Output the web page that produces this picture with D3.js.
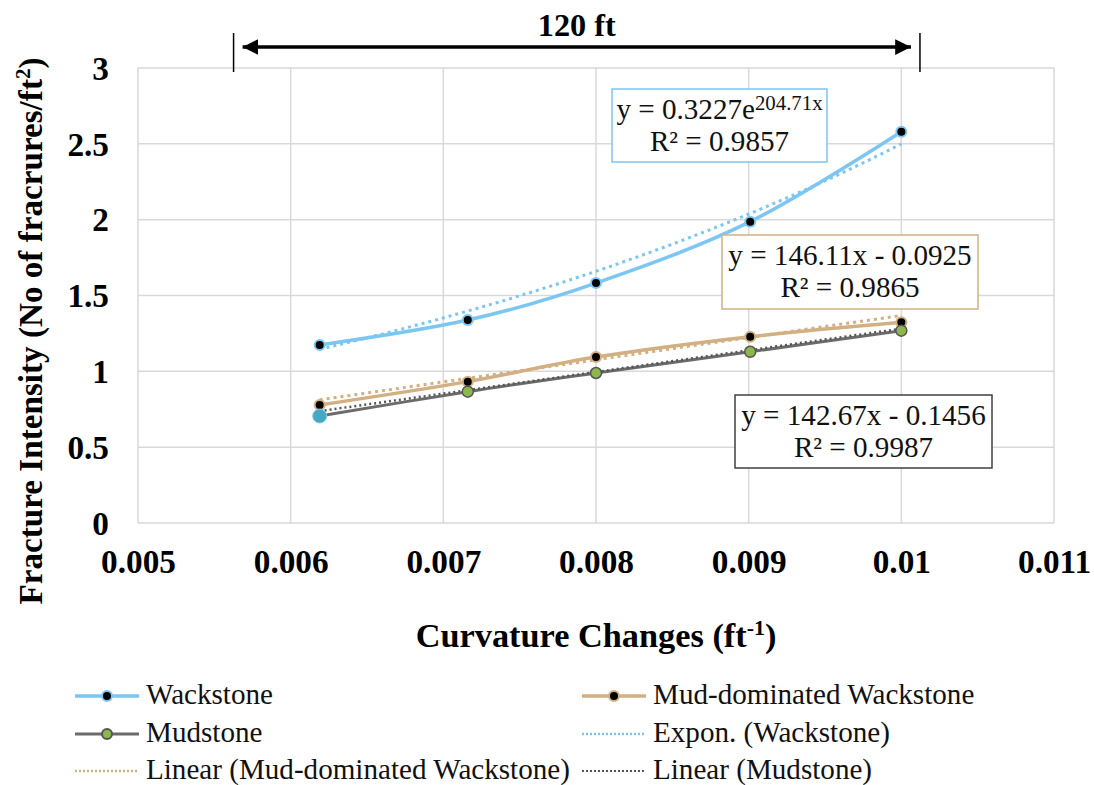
<!DOCTYPE html>
<html>
<head>
<meta charset="utf-8">
<script src="https://cdn.jsdelivr.net/npm/d3@7/dist/d3.min.js"></script>
<style>
  html, body { margin: 0; padding: 0; background: #fff; }
  svg { display: block; }
</style>
</head>
<body>
<svg id="chart" width="1094" height="785"></svg>
<script>
// ---- data ----
const curvature = [0.00619, 0.00716, 0.008, 0.00901, 0.01];
const wackstone = [1.174, 1.338, 1.582, 1.987, 2.58];
const mudWackstone = [0.778, 0.932, 1.094, 1.228, 1.323];
const mudstone = [0.705, 0.866, 0.989, 1.129, 1.268];
const xTicks = [0.005, 0.006, 0.007, 0.008, 0.009, 0.01, 0.011];
const yTicks = [0, 0.5, 1, 1.5, 2, 2.5, 3];
const expWack = [0.3227, 204.71];       // y = a e^(bx)
const linMud = [146.11, -0.0925];       // y = m x + c
const linMudstone = [142.67, -0.1456];
const spanEnds = [0.005626, 0.010122];
const spanLabel = "120 ft";

// ---- font detection: pick first installed serif ----
const cv = document.createElement("canvas").getContext("2d");
function w(font) { cv.font = font; return cv.measureText("abcdefghijklmnopqrstuvwxyz WMil 0123456789").width; }
const candidates = ["Liberation Serif", "Times New Roman", "Tinos", "DejaVu Serif", "Noto Serif", "FreeSerif", "Nimbus Roman", "Georgia"];
let serifName = null;
for (const f of candidates) {
  const a = w(`40px "${f}", monospace`), b = w("40px monospace");
  const c = w(`40px "${f}", sans-serif`), d = w("40px sans-serif");
  if (Math.abs(a - b) > 0.5 && Math.abs(c - d) > 0.5) { serifName = f; break; }
}
const FONT = serifName ? `"${serifName}", serif` : "serif";

// scale fonts so that widths match the reference (legend label ~322px at target)
cv.font = `28px ${FONT}`;
const measured = cv.measureText("Mud-dominated Wackstone").width;
const k = Math.min(1.15, Math.max(0.7, 322 / measured));
const fs = v => v * k;

const svg = d3.select("#chart").style("font-family", FONT);
const plot = { left: 138, right: 1054, top: 68, bottom: 523 };

const x = d3.scaleLinear().domain([0.005, 0.011]).range([plot.left, plot.right]);
const y = d3.scaleLinear().domain([0, 3]).range([plot.bottom, plot.top]);

const cBlue = "#7CC6F3", cTan = "#D2B083", cGrey = "#6B6B6B";

// grid
const g = svg.append("g");
g.selectAll("line.v").data(xTicks).enter().append("line")
  .attr("x1", d => x(d)).attr("x2", d => x(d))
  .attr("y1", plot.top).attr("y2", plot.bottom)
  .attr("stroke", "#d9d9d9").attr("stroke-width", 1.5);
g.selectAll("line.h").data(yTicks).enter().append("line")
  .attr("y1", d => y(d)).attr("y2", d => y(d))
  .attr("x1", plot.left).attr("x2", plot.right)
  .attr("stroke", "#d9d9d9").attr("stroke-width", 1.5);

// axes (labels only)
const xAxis = d3.axisBottom(x).tickValues(xTicks).tickSize(0).tickPadding(0)
  .tickFormat(d => String(+d.toFixed(3)));
const xa = svg.append("g").attr("transform", `translate(0,${plot.bottom})`).call(xAxis);
xa.select(".domain").remove();
xa.attr("font-family", FONT).attr("font-size", null);
xa.selectAll("text").attr("font-weight", "bold")
  .attr("font-size", fs(32)).attr("fill", "#000").attr("dy", 0).attr("y", 50);

const yAxis = d3.axisLeft(y).tickValues(yTicks).tickSize(0).tickPadding(0)
  .tickFormat(d => String(d));
const ya = svg.append("g").attr("transform", `translate(109,0)`).call(yAxis);
ya.select(".domain").remove();
ya.attr("font-family", FONT).attr("font-size", null);
ya.selectAll("text").attr("font-weight", "bold")
  .attr("font-size", fs(32)).attr("fill", "#000").attr("dy", "0.34em");

// axis titles
const xt = svg.append("text").attr("x", (plot.left + plot.right) / 2).attr("y", 647)
  .attr("text-anchor", "middle").attr("font-weight", "bold").attr("font-size", fs(33));
xt.append("tspan").text("Curvature Changes (ft");
xt.append("tspan").text("-1").attr("font-size", fs(21)).attr("dy", -12);
xt.append("tspan").text(")").attr("dy", 12);

const yt = svg.append("text").attr("transform", `translate(42,331) rotate(-90)`)
  .attr("text-anchor", "middle").attr("font-weight", "bold").attr("font-size", fs(33));
yt.append("tspan").text("Fracture Intensity (No of fracrures/ft");
yt.append("tspan").text("2").attr("font-size", fs(21)).attr("dy", -12);
yt.append("tspan").text(")").attr("dy", 12);
// fit the y title length to the reference (~547px)
{
  const len = yt.node().getComputedTextLength();
  if (len > 0) {
    const f = 547 / len;
    yt.attr("font-size", fs(33) * f);
    yt.selectAll("tspan").filter((d, i) => i === 1).attr("font-size", fs(21) * f);
  }
}

// series lines
const pts = vals => curvature.map((c, i) => [c, vals[i]]);
const line = d3.line().x(d => x(d[0])).y(d => y(d[1])).curve(d3.curveCardinal.tension(0));
svg.append("path").attr("d", line(pts(wackstone))).attr("fill", "none")
  .attr("stroke", cBlue).attr("stroke-width", 3.5);
svg.append("path").attr("d", line(pts(mudWackstone))).attr("fill", "none")
  .attr("stroke", cTan).attr("stroke-width", 3.5);
svg.append("path").attr("d", line(pts(mudstone))).attr("fill", "none")
  .attr("stroke", cGrey).attr("stroke-width", 3);

// trendlines
const x0 = curvature[0], x1 = curvature[curvature.length - 1];
const samples = d3.range(0, 41).map(i => x0 + (x1 - x0) * i / 40);
const straight = d3.line().x(d => x(d[0])).y(d => y(d[1]));
svg.append("path")
  .attr("d", straight(samples.map(v => [v, expWack[0] * Math.exp(expWack[1] * v)])))
  .attr("fill", "none").attr("stroke", cBlue).attr("stroke-width", 3).attr("stroke-dasharray", "3,4");
svg.append("path")
  .attr("d", straight([[x0, linMud[0] * x0 + linMud[1]], [x1, linMud[0] * x1 + linMud[1]]]))
  .attr("fill", "none").attr("stroke", cTan).attr("stroke-width", 3).attr("stroke-dasharray", "3,4");
svg.append("path")
  .attr("d", straight([[x0, linMudstone[0] * x0 + linMudstone[1]], [x1, linMudstone[0] * x1 + linMudstone[1]]]))
  .attr("fill", "none").attr("stroke", "#555").attr("stroke-width", 2.5).attr("stroke-dasharray", "2,3");

// markers
function markers(vals, fill, stroke, r, sw) {
  svg.append("g").selectAll("circle").data(pts(vals)).enter().append("circle")
    .attr("cx", d => x(d[0])).attr("cy", d => y(d[1])).attr("r", r)
    .attr("fill", fill).attr("stroke", stroke).attr("stroke-width", sw);
}
markers(wackstone, "#000", cBlue, 5, 2);
markers(mudWackstone, "#000", cTan, 5, 2);
markers(mudstone, "#8DB64C", "#555", 5.5, 1.5);
// first mudstone point is shown highlighted in the reference
svg.append("circle").attr("cx", x(curvature[0])).attr("cy", y(mudstone[0])).attr("r", 7)
  .attr("fill", "#45A8C4").attr("stroke", "#8ccbe0").attr("stroke-width", 1);

// equation boxes
function eqBox(x0b, y0b, wd, h, stroke, lines) {
  svg.append("rect").attr("x", x0b).attr("y", y0b).attr("width", wd).attr("height", h)
    .attr("fill", "#fff").attr("stroke", stroke).attr("stroke-width", 1.5);
  lines.forEach((ln, i) => {
    const t = svg.append("text").attr("x", x0b + wd / 2).attr("y", y0b + 30 + i * 32)
      .attr("text-anchor", "middle").attr("font-size", fs(28)).attr("fill", "#111");
    ln(t);
  });
}
eqBox(612, 89, 215, 73, cBlue, [
  t => { t.append("tspan").text("y = 0.3227e"); t.append("tspan").text("204.71x").attr("font-size", fs(20)).attr("dy", -9); },
  t => t.text("R² = 0.9857")
]);
eqBox(722, 235, 256, 74, cTan, [
  t => t.text("y = 146.11x - 0.0925"),
  t => t.text("R² = 0.9865")
]);
eqBox(735, 395, 257, 73, "#404040", [
  t => t.text("y = 142.67x - 0.1456"),
  t => t.text("R² = 0.9987")
]);

// span annotation
const ay = 47;
const defs = svg.append("defs");
defs.append("marker").attr("id", "ah").attr("viewBox", "0 0 10 10").attr("refX", 10).attr("refY", 5)
  .attr("markerWidth", 4.5).attr("markerHeight", 4.5).attr("orient", "auto-start-reverse")
  .attr("markerUnits", "strokeWidth")
  .append("path").attr("d", "M0,0 L10,5 L0,10 z").attr("fill", "#000");
svg.append("line").attr("x1", x(spanEnds[0]) + 9).attr("x2", x(spanEnds[1]) - 9)
  .attr("y1", ay).attr("y2", ay).attr("stroke", "#000").attr("stroke-width", 3.5)
  .attr("marker-start", "url(#ah)").attr("marker-end", "url(#ah)");
spanEnds.forEach(v => {
  svg.append("line").attr("x1", x(v)).attr("x2", x(v)).attr("y1", 33).attr("y2", 72)
    .attr("stroke", "#000").attr("stroke-width", 1.5);
});
svg.append("text").attr("x", (x(spanEnds[0]) + x(spanEnds[1])) / 2).attr("y", 36)
  .attr("text-anchor", "middle").attr("font-weight", "bold")
  .attr("font-size", fs(31)).text(spanLabel);

// legend
const legendItems = [
  { label: "Wackstone", col: 0, row: 0, color: cBlue, dash: null, mfill: "#000", mstroke: cBlue, w: 3.5 },
  { label: "Mud-dominated Wackstone", col: 1, row: 0, color: cTan, dash: null, mfill: "#000", mstroke: cTan, w: 3.5 },
  { label: "Mudstone", col: 0, row: 1, color: cGrey, dash: null, mfill: "#8DB64C", mstroke: "#555", w: 3 },
  { label: "Expon. (Wackstone)", col: 1, row: 1, color: cBlue, dash: "2,2", w: 2.5 },
  { label: "Linear (Mud-dominated Wackstone)", col: 0, row: 2, color: cTan, dash: "2,2", w: 2.5 },
  { label: "Linear (Mudstone)", col: 1, row: 2, color: "#555", dash: "2,2", w: 2 }
];
const colX = [75, 582], rowY = [696, 734, 771];
legendItems.forEach(it => {
  const lx = colX[it.col], ly = rowY[it.row];
  const l = svg.append("line").attr("x1", lx).attr("x2", lx + 64).attr("y1", ly).attr("y2", ly)
    .attr("stroke", it.color).attr("stroke-width", it.w);
  if (it.dash) l.attr("stroke-dasharray", it.dash);
  if (it.mfill) svg.append("circle").attr("cx", lx + 32).attr("cy", ly).attr("r", 5)
    .attr("fill", it.mfill).attr("stroke", it.mstroke).attr("stroke-width", 2);
  svg.append("text").attr("x", lx + 71).attr("y", ly + 8)
    .attr("font-size", fs(28)).attr("fill", "#111").text(it.label);
});
</script>
</body>
</html>
